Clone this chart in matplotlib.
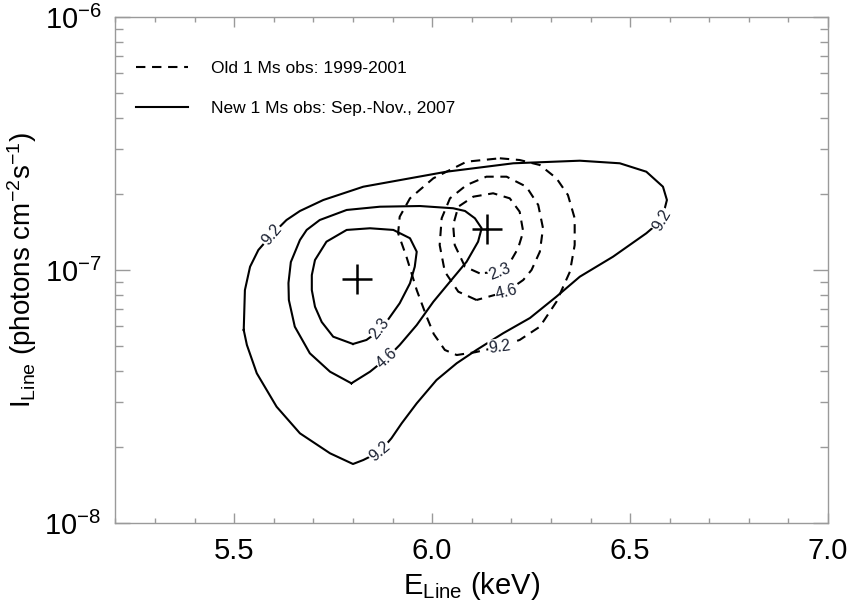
import numpy as np
import matplotlib
matplotlib.use("Agg")
import matplotlib.pyplot as plt
from matplotlib.lines import Line2D

plt.rcParams["font.family"] = ["Liberation Sans", "DejaVu Sans"]
plt.rcParams["mathtext.fontset"] = "custom"
plt.rcParams["mathtext.rm"] = "Liberation Sans"
plt.rcParams["mathtext.it"] = "Liberation Sans:italic"
plt.rcParams["mathtext.bf"] = "Liberation Sans:bold"

# contour outlines: line energy (keV), line flux (photons cm^-2 s^-1)
# new 1 Ms observation (solid)
new_23_e = [5.800, 5.750, 5.721, 5.704, 5.696, 5.696, 5.704, 5.733, 5.784, 5.843,
            5.902, 5.944, 5.961, 5.956, 5.944, 5.918, 5.888, 5.855, 5.834]
new_23_i = [5.10e-8, 5.45e-8, 6.23e-8, 7.16e-8, 8.33e-8, 9.55e-8, 1.095e-7, 1.294e-7, 1.440e-7, 1.462e-7,
            1.440e-7, 1.335e-7, 1.181e-7, 1.030e-7, 8.86e-8, 7.39e-8, 6.345e-8, 5.585e-8, 5.29e-8]

new_46_e = [5.796, 5.742, 5.691, 5.653, 5.638, 5.637, 5.643, 5.666, 5.683, 5.716, 5.784, 5.868, 5.969,
            6.053, 6.083, 6.108, 6.125, 6.116, 6.087, 6.045, 6.003, 5.961, 5.918, 5.885, 5.843]
new_46_i = [3.566e-8, 3.963e-8, 4.686e-8, 5.97e-8, 7.61e-8, 8.88e-8, 1.075e-7, 1.314e-7, 1.440e-7,
            1.576e-7, 1.727e-7, 1.779e-7, 1.790e-7, 1.754e-7, 1.711e-7, 1.601e-7, 1.462e-7, 1.294e-7,
            1.078e-7, 8.99e-8, 7.49e-8, 6.06e-8, 5.054e-8, 4.477e-8, 3.963e-8]

new_92_e = [5.524, 5.527, 5.540, 5.561, 5.594, 5.632, 5.666, 5.725, 5.826, 5.944, 6.036, 6.205, 6.373,
            6.474, 6.541, 6.583, 6.593, 6.580, 6.541, 6.457, 6.373, 6.314, 6.247, 6.179, 6.112, 6.062,
            6.011, 5.961, 5.923, 5.897, 5.868, 5.826, 5.800, 5.742, 5.666, 5.607, 5.557, 5.532]
new_92_i = [5.79e-8, 8.33e-8, 1.030e-7, 1.200e-7, 1.375e-7, 1.576e-7, 1.711e-7, 1.891e-7, 2.134e-7,
            2.304e-7, 2.446e-7, 2.641e-7, 2.704e-7, 2.641e-7, 2.446e-7, 2.134e-7, 1.891e-7, 1.576e-7,
            1.397e-7, 1.129e-7, 9.41e-8, 7.85e-8, 6.46e-8, 5.62e-8, 4.83e-8, 4.28e-8, 3.674e-8,
            2.972e-8, 2.478e-8, 2.161e-8, 1.913e-8, 1.774e-8, 1.711e-8, 1.886e-8, 2.262e-8, 2.882e-8,
            3.906e-8, 5.054e-8]

# old 1 Ms observations (dashed)
old_23_e = [6.120, 6.083, 6.057, 6.053, 6.066, 6.104, 6.154, 6.196, 6.221, 6.230, 6.217, 6.200, 6.171]
old_23_i = [9.70e-8, 1.030e-7, 1.255e-7, 1.506e-7, 1.779e-7, 1.949e-7, 2.010e-7, 1.920e-7, 1.700e-7,
            1.417e-7, 1.218e-7, 1.095e-7, 9.85e-8]

old_46_e = [6.112, 6.066, 6.032, 6.019, 6.024, 6.045, 6.087, 6.137, 6.188, 6.238, 6.268, 6.280, 6.272,
            6.251, 6.230, 6.188]
old_46_i = [7.61e-8, 8.21e-8, 9.85e-8, 1.255e-7, 1.601e-7, 1.920e-7, 2.167e-7, 2.338e-7, 2.338e-7,
            2.134e-7, 1.806e-7, 1.462e-7, 1.181e-7, 1.000e-7, 9.13e-8, 8.21e-8]

old_92_e = [6.171, 6.221, 6.272, 6.314, 6.343, 6.360, 6.360, 6.348, 6.314, 6.272, 6.221, 6.171, 6.108,
            6.062, 6.032, 6.004, 5.986, 5.961, 5.935, 5.914, 5.918, 5.944, 6.003, 6.087]
old_92_i = [2.764e-7, 2.721e-7, 2.600e-7, 2.304e-7, 1.978e-7, 1.601e-7, 1.255e-7, 9.85e-8, 7.49e-8,
            5.97e-8, 5.29e-8, 4.977e-8, 4.73e-8, 4.613e-8, 4.83e-8, 5.585e-8, 6.54e-8, 8.33e-8,
            1.129e-7, 1.397e-7, 1.624e-7, 1.920e-7, 2.304e-7, 2.680e-7]

# best-fit positions
best_e = [5.809, 6.139]
best_i = [9.19e-8, 1.453e-7]

# contour labels: text, energy, flux, angle
label_text = ["9.2", "9.2", "9.2", "4.6", "2.3", "2.3", "4.6", "9.2"]
label_e = [5.594, 6.580, 5.868, 5.885, 5.868, 6.171, 6.188, 6.171]
label_i = [1.375e-7, 1.576e-7, 1.913e-8, 4.477e-8, 5.88e-8, 9.85e-8, 8.21e-8, 4.977e-8]
label_rot = [50, 60, 40, 42, 52, 22, 14, 8]

legend_labels = ["Old 1 Ms obs: 1999-2001", "New 1 Ms obs: Sep.-Nov., 2007"]

x_ticks = [5.5, 6.0, 6.5, 7.0]


def closed(e, i):
    return np.append(e, e[0]), np.append(i, i[0])


fig = plt.figure(figsize=(8.54, 6.09), dpi=100)
ax = fig.add_axes([0.1352, 0.1412, 0.8344, 0.8309])

solid = dict(color="black", lw=1.5, ls="-", solid_joinstyle="round")
dashed = dict(color="black", lw=1.5, ls=(0, (4.5, 3.2)))

for e, i in [(new_23_e, new_23_i), (new_46_e, new_46_i), (new_92_e, new_92_i)]:
    ax.plot(*closed(e, i), **solid)
for e, i in [(old_23_e, old_23_i), (old_46_e, old_46_i), (old_92_e, old_92_i)]:
    ax.plot(*closed(e, i), **dashed)

ax.plot(best_e, best_i, ls="none", marker="+", ms=21, mew=1.8, color="black")

for txt, e, i, rot in zip(label_text, label_e, label_i, label_rot):
    ax.text(e, i, txt, fontsize=11.5, color="#1c2233", rotation=rot,
            rotation_mode="anchor", ha="center", va="center",
            bbox=dict(fc="white", ec="none", pad=0.6))

ax.set_xlim(5.2, 7.0)
ax.set_yscale("log")
ax.set_ylim(1e-8, 1e-6)
ax.set_xticks(x_ticks)
ax.set_xticklabels([f"{t:.1f}" for t in x_ticks])
ax.xaxis.set_minor_locator(matplotlib.ticker.MultipleLocator(0.1))
ax.yaxis.set_minor_formatter(matplotlib.ticker.NullFormatter())

for side in ax.spines.values():
    side.set_color("#9a9a9a")
    side.set_linewidth(1.0)
ax.tick_params(which="both", direction="in", top=True, right=True, color="#9a9a9a", width=1.0)
ax.tick_params(axis="x", which="major", length=7, pad=10, labelsize=21)
ax.tick_params(axis="x", which="minor", length=3.5)
ax.tick_params(axis="y", which="major", length=11, pad=10, labelsize=21)
ax.tick_params(axis="y", which="minor", length=5.5)

ax.set_xlabel(r"E$_{\mathrm{Line}}$ (keV)", fontsize=21, labelpad=4)
ax.set_ylabel(r"I$_{\mathrm{Line}}$ (photons cm$^{\mathrm{-2}}$s$^{\mathrm{-1}}$)", fontsize=20, labelpad=4)

handles = [Line2D([], [], **dashed), Line2D([], [], **solid)]
ax.legend(handles, legend_labels, loc="upper left", bbox_to_anchor=(0.0, 0.955), frameon=False,
          fontsize=12.5, handlelength=3.0, handletextpad=1.3, labelspacing=1.45, borderaxespad=0.8)

fig.savefig("out.png", dpi=100)
